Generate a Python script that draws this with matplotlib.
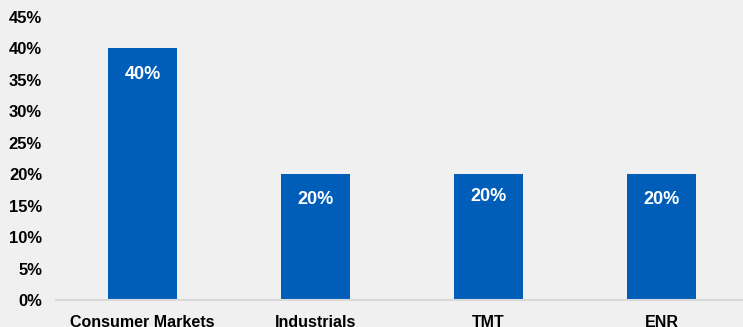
import matplotlib.pyplot as plt

# Data
categories = ['Consumer Markets', 'Industrials', 'TMT', 'ENR']
values = [40, 20, 20, 20]
yticks = [0, 5, 10, 15, 20, 25, 30, 35, 40, 45]
# how far (pixels) each value label sits below the bar top
label_drop = [26, 25, 22, 25]

plt.rcParams['font.family'] = ['Liberation Sans', 'DejaVu Sans']

W, H = 743, 327
fig = plt.figure(figsize=(W / 100, H / 100), dpi=100)
fig.patch.set_facecolor('#f0f0f0')

ax_left, ax_right = 56, 748
ax_bottom, ax_top = 300, 17
ax = fig.add_axes([ax_left / W, (H - ax_bottom) / H,
                   (ax_right - ax_left) / W, (ax_bottom - ax_top) / H])
ax.set_facecolor('#f0f0f0')

x = range(len(categories))
ax.bar(x, values, width=0.4, color='#005eb8', zorder=2)

for xi, v, d in zip(x, values, label_drop):
    ax.annotate(f'{v}%', (xi, v), xytext=(0, -d), textcoords='offset pixels',
                ha='center', va='center', color='white', fontsize=13,
                fontweight='bold')

ax.set_xlim(-0.5, len(categories) - 0.5)
ax.set_ylim(0, 45)
ax.set_yticks(yticks)
ax.set_yticklabels([f'{t}%' for t in yticks], fontsize=12, fontweight='bold')
ax.set_xticks(list(x))
ax.set_xticklabels(categories, fontsize=11.5, fontweight='bold')

for s in ['top', 'right', 'left']:
    ax.spines[s].set_visible(False)
ax.spines['bottom'].set_color('#d9d9d9')
ax.spines['bottom'].set_linewidth(1.5)
ax.tick_params(axis='both', length=0)
ax.tick_params(axis='y', pad=10)
ax.tick_params(axis='x', pad=10.5)

fig.savefig('out.png', dpi=100, facecolor=fig.get_facecolor())
